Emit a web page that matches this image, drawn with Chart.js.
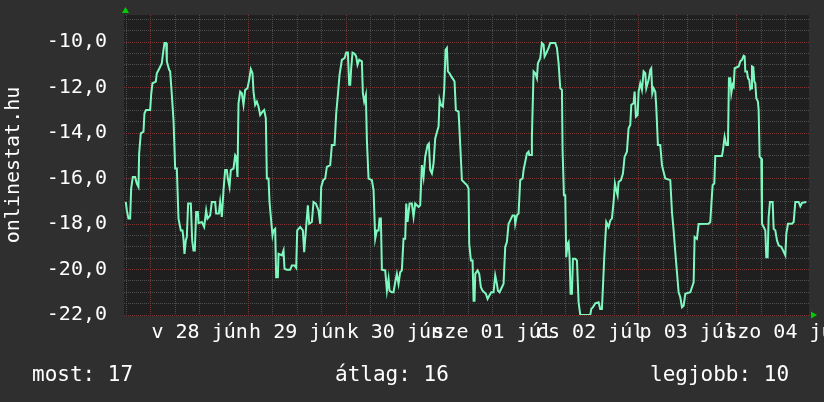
<!DOCTYPE html>
<html>
<head>
<meta charset="utf-8">
<script src="https://cdn.jsdelivr.net/npm/chart.js@4"></script>
<style>
  body { margin: 0; background: #2f2f2f; }
  #wrap { position: relative; width: 824px; height: 402px; }
  .foot { position: absolute; top: 364px; color: #ffffff; font: 21px 'DejaVu Sans Mono', monospace; line-height: 21px; white-space: pre; }
</style>
</head>
<body>
<div id="wrap">
  <canvas id="chart" width="824" height="402"></canvas>
  <div class="foot" id="foot0" style="left:32px"></div>
  <div class="foot" id="foot1" style="left:335px"></div>
  <div class="foot" id="foot2" style="left:650px"></div>
</div>
<script>
// idő: órák jún 28 00:00-tól, érték: mért hőmérséklet
const hours = [
  -6.16,-5.91,-5.50,-5.09,-4.84,-4.43,-3.86,-3.45,-3.04,-2.88,-2.47,-1.81,-1.57,-1.16,-0.17,0.07,0.40,1.22,1.47,2.12,2.70,2.94,3.35,3.76,3.93,4.50,4.75,5.16,5.57,5.98,6.39,6.80,7.04,7.37,7.78,8.02,8.27,8.60,8.84,9.17,9.83,10.16,10.48,10.81,11.14,11.55,11.71,12.53,13.11,13.60,13.93,14.58,14.99,15.81,16.06,16.71,17.04,17.45,17.86,18.27,18.68,18.93,19.34,19.66,20.32,20.73,20.98,21.30,
  21.55,21.96,22.37,22.78,23.19,23.76,24.17,24.58,24.99,25.24,25.65,26.06,26.47,26.88,27.45,27.86,28.27,28.52,28.93,29.17,29.50,29.91,30.16,30.57,30.81,31.22,31.39,32.21,32.62,32.86,33.43,34.25,34.66,35.32,35.73,35.98,36.71,37.37,37.70,38.11,38.60,38.93,39.58,39.99,40.57,41.22,41.63,41.88,42.37,42.86,43.27,44.09,44.50,45.16,45.57,45.98,46.39,46.96,47.62,48.03,48.44,48.76,49.01,49.25,49.58,
  50.07,50.48,50.81,51.22,51.88,52.12,52.45,52.86,53.11,53.52,54.34,54.75,55.16,55.57,55.98,56.22,56.55,56.80,57.62,58.03,58.44,58.68,59.25,59.66,60.07,60.48,60.89,61.30,61.71,62.12,62.53,62.78,63.11,63.60,64.17,64.58,64.99,65.81,66.22,66.63,67.04,67.45,68.02,68.35,68.68,69.09,69.50,69.91,70.48,70.73,70.98,71.30,71.80,72.12,72.45,72.78,73.02,73.43,73.84,74.42,74.66,74.99,75.65,76.06,76.47,77.29,77.70,
  78.11,78.27,78.68,79.09,79.34,79.58,79.75,80.32,80.73,81.14,81.55,81.96,82.37,82.78,83.19,83.68,84.25,84.66,85.07,85.32,85.73,86.30,86.71,87.12,87.53,87.94,88.35,88.93,89.42,89.58,89.99,90.40,90.81,91.39,91.63,92.04,92.45,92.86,93.03,93.52,93.68,94.09,94.50,94.91,95.16,95.73,96.14,96.55,96.80,97.20,97.78,98.19,99.42,99.83,100.24,100.65,101.06,101.22,101.55,101.88,102.12,102.45,102.70,102.94,103.19,103.52,103.76,104.34,104.75,105.16,105.57,106.39,
  108.03,108.27,108.68,109.25,110.07,110.48,110.89,111.14,111.47,111.96,112.53,112.94,113.35,113.76,114.09,114.42,114.75,114.99,115.57,116.06,116.47,117.04,117.45,117.86,118.11,118.68,118.93,119.25,119.66,119.91,120.32,120.73,121.14,121.55,121.80,122.37,122.78,123.02,123.27,123.60,124.01,124.25,124.66,125.24,125.65,126.06,126.47,127.70,128.11,128.52,128.93,129.34,129.75,130.16,130.57,130.98,131.39,132.62,133.03,133.44,133.68,134.25,134.66,
  137.12,137.53,137.78,138.11,138.52,138.76,140.40,140.65,141.06,141.47,141.88,142.12,142.45,142.70,143.03,143.27,143.52,144.50,144.91,145.32,145.73,145.98,146.14,146.55,146.80,147.12,147.37,147.62,147.78,148.11,148.35,148.60,148.85,149.25,149.42,149.66,150.07,150.24,150.65,151.06,151.30,151.63,151.88,152.20,152.86,153.11,153.52,153.93,154.34,155.00,155.41,155.98,156.22,156.63,157.62,158.03,158.44,159.26,159.67,160.08,161.14
];
const temps = [
  -17.03,-17.40,-17.76,-17.76,-16.44,-15.93,-15.93,-16.22,-16.37,-14.90,-14.01,-13.94,-13.13,-12.99,-12.99,-12.32,-11.81,-11.74,-11.37,-11.15,-10.93,-10.56,-10.04,-10.04,-10.85,-11.22,-11.29,-12.32,-13.43,-15.56,-15.56,-17.76,-17.99,-18.28,-18.28,-18.65,-19.31,-18.72,-18.57,-17.10,-17.10,-18.72,-19.16,-19.16,-17.47,-17.47,-17.96,-17.91,-18.13,-17.40,-17.76,-17.62,-17.03,-17.03,-17.54,-17.54,-17.03,-17.69,-16.51,-15.63,-15.63,-16.00,-16.37,-15.63,-15.56,-14.97,-15.04,-15.93,
  -12.69,-12.18,-12.25,-12.76,-12.10,-12.03,-11.66,-11.19,-11.37,-12.18,-12.76,-12.62,-12.84,-13.21,-13.06,-12.99,-13.35,-16.00,-16.00,-17.03,-17.69,-18.50,-18.28,-18.21,-20.34,-20.34,-19.31,-19.38,-19.16,-19.97,-20.01,-20.01,-19.82,-19.82,-19.93,-18.28,-18.13,-18.28,-19.24,-18.28,-17.18,-17.99,-17.91,-17.03,-17.10,-17.40,-17.99,-16.37,-16.07,-16.00,-15.49,-15.41,-14.53,-14.53,-13.13,-12.32,-11.44,-10.78,-10.71,-10.46,-10.46,-11.88,-11.88,-11.15,-10.46,
  -10.51,-10.63,-11.00,-10.78,-10.85,-12.25,-12.62,-12.32,-14.31,-16.00,-16.07,-16.51,-18.65,-18.28,-18.28,-17.76,-17.76,-20.01,-20.04,-20.93,-20.41,-20.93,-21.00,-21.00,-20.56,-20.19,-20.63,-20.12,-20.04,-18.65,-18.65,-17.10,-17.91,-17.10,-17.10,-17.69,-17.10,-17.25,-17.18,-15.41,-15.93,-15.04,-14.53,-14.46,-15.63,-15.78,-15.34,-14.24,-13.87,-13.72,-12.54,-12.76,-12.84,-12.10,-10.34,-10.26,-11.29,-11.37,-11.51,-11.66,-11.74,-12.99,-13.06,-14.53,-16.07,-16.22,-16.29,
  -16.44,-18.87,-19.60,-19.60,-21.37,-21.37,-20.19,-20.04,-20.19,-20.78,-20.93,-21.00,-21.07,-21.29,-21.15,-21.00,-21.00,-20.26,-20.63,-20.93,-21.00,-20.78,-20.63,-19.01,-18.79,-17.99,-17.84,-17.62,-17.62,-17.99,-17.62,-17.54,-16.07,-16.00,-15.63,-15.26,-14.90,-14.82,-14.97,-14.97,-14.16,-11.29,-11.37,-11.59,-10.93,-10.71,-10.04,-10.12,-10.63,-10.49,-10.26,-10.04,-10.04,-10.26,-10.93,-12.03,-12.10,-14.75,-16.74,-16.74,-19.46,-18.87,-18.79,-19.46,-21.07,-21.07,-19.53,-19.53,-19.60,-21.44,-22.00,-22.00,
  -22.00,-21.74,-21.66,-21.49,-21.44,-21.74,-21.74,-20.78,-19.46,-17.91,-18.13,-17.84,-17.76,-17.03,-16.22,-16.51,-16.74,-16.15,-16.07,-15.78,-15.04,-14.82,-13.79,-13.65,-12.76,-12.69,-12.18,-13.28,-13.21,-12.18,-11.81,-12.10,-11.29,-11.37,-12.03,-11.66,-11.22,-11.15,-12.25,-12.03,-12.18,-12.84,-14.53,-14.53,-15.41,-15.71,-16.00,-16.07,-17.47,-18.28,-19.24,-20.12,-21.00,-21.22,-21.66,-21.59,-21.07,-21.00,-20.78,-20.56,-18.57,-18.65,-18.00,
  -17.99,-17.91,-17.18,-16.29,-16.22,-15.01,-15.01,-14.75,-14.16,-14.53,-14.53,-11.59,-11.59,-12.25,-11.88,-11.96,-11.15,-11.07,-10.85,-10.78,-10.60,-10.63,-11.29,-11.29,-11.59,-11.66,-12.07,-12.03,-11.07,-11.10,-11.74,-11.81,-12.47,-12.62,-12.99,-15.04,-15.12,-17.99,-18.13,-18.28,-19.46,-19.46,-17.69,-17.03,-17.03,-18.21,-18.28,-18.72,-18.94,-19.01,-19.16,-19.38,-18.43,-17.99,-17.99,-17.91,-17.03,-17.03,-17.22,-17.07,-17.03
];

// tengelyek
const dayLabels = ['v 28 jún', 'h 29 jún', 'k 30 jún', 'sze 01 júl', 'cs 02 júl', 'p 03 júl', 'szo 04 júl'];
const dayLabelHours = [12, 36, 60, 84, 108, 132, 156];
const xRange = [-6.6, 161.8];
const yRange = [-22, -8.81];
const yMajor = [-22, -20, -18, -16, -14, -12, -10];
const yTitle = 'onlinestat.hu';

// összesítő sor
const footLabels = ['most', 'átlag', 'legjobb'];
const footValues = [17, 16, 10];

if (hours.length !== temps.length) {
    console.warn('hours/temps hossz eltér', hours.length, temps.length);
}

footLabels.forEach((l, i) => {
    document.getElementById('foot' + i).textContent = l + ': ' + footValues[i];
});

const MAJOR = '#7d3434';
const MINOR = '#4e4e4e';
const FONT = "'DejaVu Sans Mono', monospace";

// háttér + zöld nyilak
const rrdLook = {
    id: 'rrdLook',
    beforeDraw(chart) {
        const { ctx, chartArea: a } = chart;
        ctx.save();
        ctx.fillStyle = '#2f2f2f';
        ctx.fillRect(0, 0, chart.width, chart.height);
        ctx.fillStyle = '#1f1f1f';
        ctx.fillRect(a.left, a.top, a.right - a.left, a.bottom - a.top + 1);
        ctx.restore();
    },
    afterDraw(chart) {
        const { ctx, chartArea: a } = chart;
        ctx.save();
        ctx.fillStyle = '#00cc00';
        ctx.beginPath();
        ctx.moveTo(a.left - 2, a.top - 2);
        ctx.lineTo(a.left + 5, a.top - 2);
        ctx.lineTo(a.left + 1.5, a.top - 8);
        ctx.closePath();
        ctx.fill();
        ctx.beginPath();
        ctx.moveTo(a.right + 2, a.bottom - 3.5);
        ctx.lineTo(a.right + 2, a.bottom + 3.5);
        ctx.lineTo(a.right + 8, a.bottom);
        ctx.closePath();
        ctx.fill();
        ctx.restore();
    }
};

const points = hours.map((h, i) => ({ x: h, y: temps[i] }));

new Chart(document.getElementById('chart'), {
    type: 'line',
    data: {
        datasets: [{
            data: points,
            borderColor: '#7ff8c0',
            borderWidth: 2,
            pointRadius: 0,
            tension: 0,
            fill: false
        }]
    },
    options: {
        responsive: false,
        animation: false,
        layout: { padding: { left: 0, right: 15, top: 15, bottom: 47 } },
        plugins: { legend: { display: false }, tooltip: { enabled: false } },
        scales: {
            x: {
                type: 'linear',
                min: xRange[0],
                max: xRange[1],
                afterBuildTicks(scale) {
                    const t = [];
                    for (let h = -6; h <= xRange[1]; h += 6) t.push({ value: h });
                    scale.ticks = t;
                },
                afterFit(scale) {
                    scale.height = 40;
                    scale.paddingLeft = 0;
                    scale.paddingRight = 0;
                },
                grid: {
                    color: c => (c.tick && c.tick.value % 24 === 0) ? MAJOR : MINOR,
                    drawTicks: false
                },
                border: { display: false, dash: [1, 1] },
                ticks: {
                    autoSkip: false,
                    maxRotation: 0,
                    minRotation: 0,
                    padding: 6,
                    color: '#ffffff',
                    font: { family: FONT, size: 20 },
                    callback: v => {
                        const i = dayLabelHours.indexOf(v);
                        return i >= 0 ? dayLabels[i] : '';
                    }
                }
            },
            y: {
                min: yRange[0],
                max: yRange[1],
                afterBuildTicks(scale) {
                    const t = [];
                    for (let v = yRange[0]; v <= yRange[1]; v += 0.5) t.push({ value: v });
                    scale.ticks = t;
                },
                afterFit(scale) {
                    scale.width = 124;
                    scale.paddingTop = 0;
                    scale.paddingBottom = 0;
                },
                grid: {
                    color: c => (c.tick && c.tick.value % 2 === 0) ? MAJOR : MINOR,
                    drawTicks: false
                },
                border: { display: false, dash: [1, 1] },
                ticks: {
                    autoSkip: false,
                    padding: 17,
                    color: '#ffffff',
                    font: { family: FONT, size: 20 },
                    callback: v => yMajor.includes(v) ? v.toFixed(1).replace('.', ',') : ''
                },
                title: {
                    display: true,
                    text: yTitle,
                    color: '#ffffff',
                    font: { family: FONT, size: 20 },
                    padding: { top: 2, bottom: 0 }
                }
            }
        }
    },
    plugins: [rrdLook]
});
</script>
</body>
</html>
